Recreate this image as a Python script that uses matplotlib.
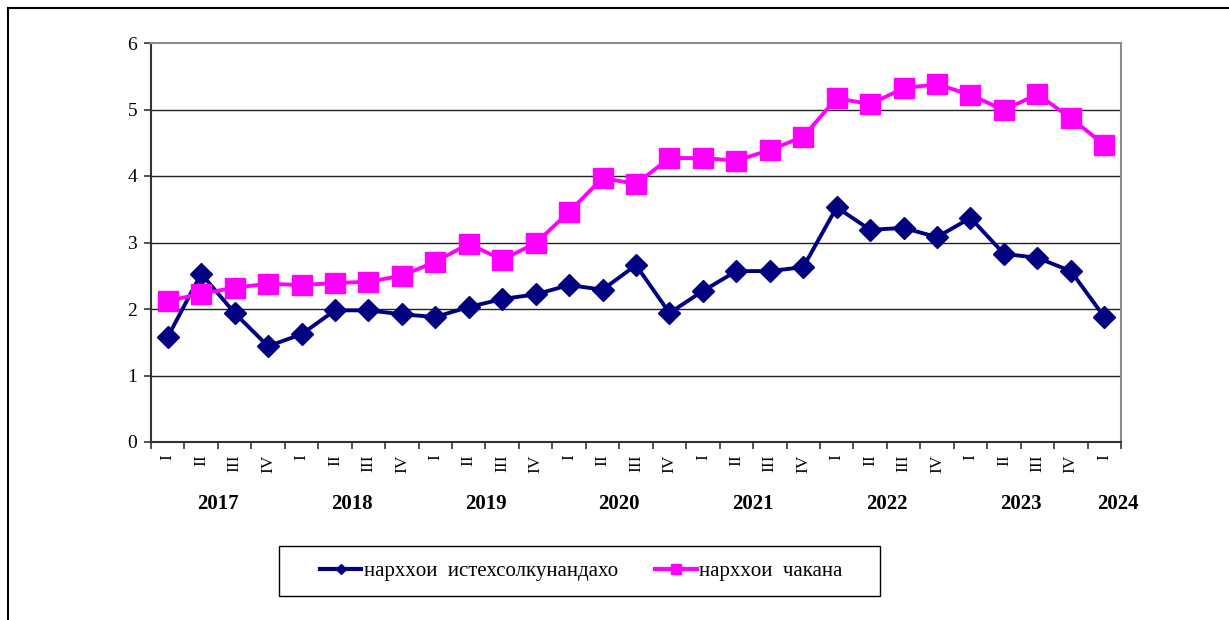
import matplotlib
matplotlib.use("Agg")
import matplotlib.pyplot as plt
from matplotlib.lines import Line2D
from matplotlib.patches import Rectangle

quarters = ["I", "II", "III", "IV"] * 7 + ["I"]
years = ["2017", "2018", "2019", "2020", "2021", "2022", "2023", "2024"]
producer = [1.58, 2.53, 1.94, 1.44, 1.62, 1.98, 1.98, 1.92, 1.88, 2.03,
            2.15, 2.22, 2.36, 2.29, 2.66, 1.94, 2.27, 2.57, 2.57, 2.63,
            3.53, 3.19, 3.22, 3.08, 3.37, 2.83, 2.77, 2.57, 1.88]
retail = [2.12, 2.23, 2.32, 2.38, 2.36, 2.39, 2.41, 2.50, 2.71, 2.98,
          2.74, 2.99, 3.46, 3.97, 3.88, 4.27, 4.27, 4.23, 4.39, 4.59,
          5.17, 5.08, 5.32, 5.38, 5.22, 4.99, 5.23, 4.87, 4.47]
labels = ["нархxои  истехсолкунандахо", "нархxои  чакана"]

serif = "Liberation Serif"

fig = plt.figure(figsize=(12.29, 6.2), dpi=100)
ax = fig.add_axes([151/1229, 1-442/620, 970/1229, 399/620])

n = len(producer)
xs = [i + 0.5 for i in range(n)]

l1, = ax.plot(xs, producer, color="#000080", lw=2.8, marker="D", ms=11,
              markeredgecolor="#000080", zorder=3)
l2, = ax.plot(xs, retail, color="#FF00FF", lw=2.8, marker="s", ms=14,
              markeredgecolor="#FF00FF", zorder=4)

ax.set_xlim(0, n)
ax.set_ylim(0, 6)
ax.set_yticks(range(0, 7))
ax.set_yticklabels([str(v) for v in range(0, 7)], fontfamily=serif, fontsize=14)
ax.set_xticks(range(0, n + 1))
ax.set_xticklabels([])
ax.set_xticks(xs, minor=True)
ax.set_xticklabels(quarters, minor=True, rotation=90, fontfamily=serif,
                   fontsize=12.5, va="top")
ax.tick_params(axis="x", which="minor", length=0, pad=9)
ax.tick_params(axis="x", which="major", length=5, width=1.2, color="#333333")
ax.tick_params(axis="y", length=5, width=1.2, color="#333333", pad=5)

for v in range(1, 6):
    ax.axhline(v, color="#222222", lw=1.0, zorder=1)

for s in ["top", "right"]:
    ax.spines[s].set_color("#8c8c8c")
    ax.spines[s].set_linewidth(1.5)
for s in ["left", "bottom"]:
    ax.spines[s].set_color("#333333")
    ax.spines[s].set_linewidth(1.5)

year_pos = [2, 6, 10, 14, 18, 22, 26, 28.9]
for yp, yl in zip(year_pos, years):
    ax.text(yp, -0.93, yl, transform=ax.transData, ha="center", va="center",
            fontfamily=serif, fontsize=15, fontweight="bold", clip_on=False)

# legend frame
fig.add_artist(Rectangle((279/1229, 1-596/620), 601/1229, 50/620,
                         transform=fig.transFigure, fill=False,
                         edgecolor="black", lw=1.0))
h1 = Line2D([], [], color="#000080", lw=3, marker="D", ms=5)
h2 = Line2D([], [], color="#FF00FF", lw=3, marker="s", ms=7)
leg = fig.legend([h1, h2], labels, loc="center",
                 bbox_to_anchor=(581/1229, 1-571/620), ncol=2,
                 prop={"family": serif, "size": 15}, frameon=False,
                 handlelength=2.0, handletextpad=0.1, columnspacing=1.8,
                 borderpad=0.3, borderaxespad=0)

# outer frame
fig.add_artist(Line2D([8/1229, 1.0], [1-8/620, 1-8/620], color="black", lw=1.5,
                      transform=fig.transFigure))
fig.add_artist(Line2D([8/1229, 8/1229], [0, 1-8/620], color="black", lw=1.5,
                      transform=fig.transFigure))

fig.savefig("out.png", dpi=100)
